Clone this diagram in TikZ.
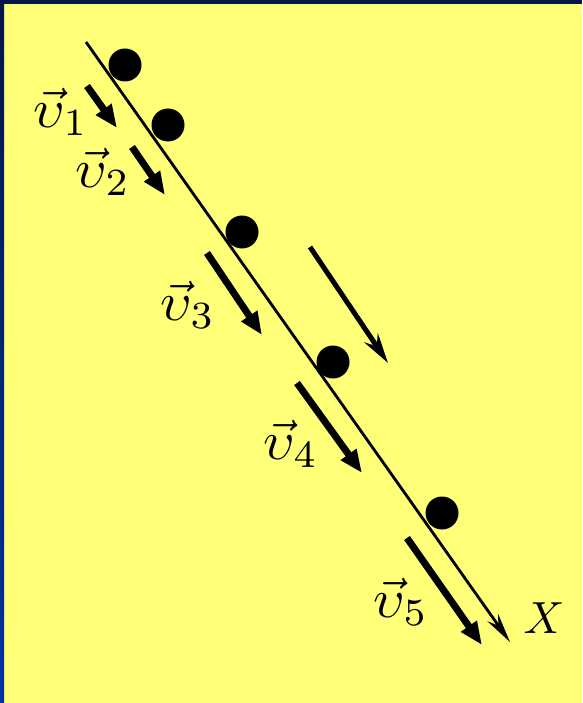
\documentclass[tikz,border=0pt]{standalone}
\usetikzlibrary{arrows.meta}
\definecolor{bg}{RGB}{255,255,120}
\definecolor{navy}{RGB}{6,22,70}
\definecolor{edgeblue}{RGB}{0,50,160}
\newcommand{\vlab}[1]{\scalebox{5.5}{$\vec{\upsilon}_{#1}$}}
\begin{document}
\begin{tikzpicture}[x=1pt,y=-1pt,
  ball/.style={circle,fill=black,inner sep=0pt,minimum size=33pt},
  vel/.style={line width=7pt,-{Triangle[length=23pt,width=18pt]}},
  axisline/.style={line width=2.8pt,-{Stealth[length=30pt,width=13pt,inset=10pt]}},
  thinvec/.style={line width=5pt,-{Stealth[length=30pt,width=16pt,inset=10pt]}},
  lab/.style={inner sep=0pt},
  axlab/.style={inner sep=0pt}]
\fill[bg] (0,0) rectangle (582,703);
\fill[navy] (0,0) rectangle (582,4);
\shade[top color=navy,bottom color=edgeblue] (0,0) rectangle (4,703);
\useasboundingbox (0,0) rectangle (582,703);
% axis
\coordinate (x0) at (86,42);
\coordinate (x1) at (510,642);
\draw[axisline] (x0) -- (x1);
\node[axlab] (xl) at (544,618) {\scalebox{4.5}{$X$}};
% balls
\node[ball] (b1) at (125,65) {};
\node[ball] (b2) at (168,125) {};
\node[ball] (b3) at (242,232) {};
\node[ball] (b4) at (333,362) {};
\node[ball] (b5) at (442,513) {};
% velocity arrows
\coordinate (a1s) at (87,86);   \coordinate (a1e) at (117,128);
\coordinate (a2s) at (132,147); \coordinate (a2e) at (165,195);
\coordinate (a3s) at (207,253); \coordinate (a3e) at (262,335);
\coordinate (a4s) at (297,383); \coordinate (a4e) at (362,473);
\coordinate (a5s) at (407,538); \coordinate (a5e) at (482,645);
\draw[vel] (a1s) -- (a1e);
\draw[vel] (a2s) -- (a2e);
\draw[vel] (a3s) -- (a3e);
\draw[vel] (a4s) -- (a4e);
\draw[vel] (a5s) -- (a5e);
% separate arrow
\coordinate (gs) at (310,247); \coordinate (ge) at (388,363);
\draw[thinvec] (gs) -- (ge);
% labels
\node[lab] (l1) at (61,112) {\vlab{1}};
\node[lab] (l2) at (103,172) {\vlab{2}};
\node[lab] (l3) at (188,305) {\vlab{3}};
\node[lab] (l4) at (291,444) {\vlab{4}};
\node[lab] (l5) at (401,602) {\vlab{5}};
\end{tikzpicture}
\end{document}
